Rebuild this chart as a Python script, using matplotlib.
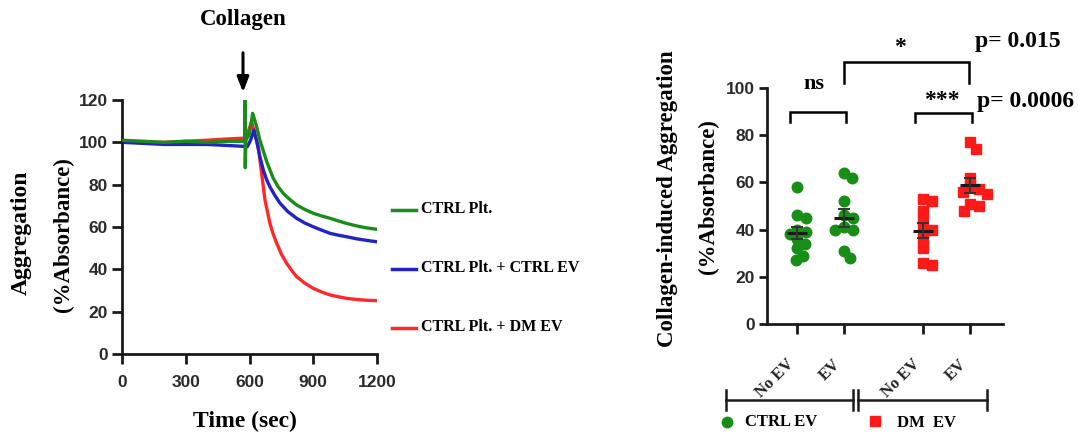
import numpy as np
import matplotlib.pyplot as plt
import matplotlib.transforms as mtransforms

# ---- data: aggregation traces ----
t_green = [0, 100, 200, 300, 400, 500, 570, 578, 579, 580, 583, 600, 615, 632, 649, 665, 681, 696,
           712, 735, 759, 790, 822, 860, 900, 940, 979, 1020, 1057, 1100, 1150, 1200]
green = [101, 100.5, 100, 100.5, 100, 100.5, 100.5, 100.5, 120, 88, 101, 104, 113.7, 108, 101, 96, 90.9, 87,
         83, 79, 75.9, 73, 70.4, 68.3, 66.5, 65.2, 64.1, 62.8, 61.7, 60.6, 59.6, 58.9]
t_blue = [0, 100, 200, 300, 400, 500, 590, 605, 621, 635, 649, 665, 680, 696, 720, 744, 780, 822,
          860, 900, 940, 979, 1020, 1057, 1100, 1150, 1200]
blue = [100, 99.5, 99, 99, 99, 98.5, 98, 101, 105.8, 100, 93.2, 86.9, 82.5, 79, 74.8, 71.2, 67.3, 64.1,
        61.9, 60.1, 58.5, 57, 56.1, 55.4, 54.5, 53.7, 53]
t_red = [0, 100, 200, 300, 400, 480, 578, 590, 610, 625, 641, 657, 673, 696, 712, 728, 750, 775,
         800, 822, 860, 900, 940, 979, 1020, 1057, 1100, 1150, 1200]
red = [100, 100, 100, 100.5, 101, 101.5, 102, 104, 109.7, 104, 98, 85.4, 72.7, 61.7, 56.5, 52.3, 47.2, 42.8,
       39.3, 36.5, 33.5, 31, 29.3, 27.9, 27, 26.3, 25.8, 25.4, 25.2]
trace_labels = ["CTRL Plt.", "CTRL Plt. + CTRL EV", "CTRL Plt. + DM EV"]

# ---- data: collagen-induced aggregation per group ----
categories = ["No EV", "EV", "No EV", "EV"]
ctrl_no_ev = [58, 46, 45, 40, 39, 38, 36, 34, 32, 29, 27]
ctrl_ev = [64, 62, 52, 46, 45, 41, 40, 40, 31, 28]
dm_no_ev = [53, 52, 48, 44, 40, 40, 36, 32, 26, 25]
dm_ev = [77, 74, 62, 58, 57, 56, 55, 51, 50, 48]
groups = [ctrl_no_ev, ctrl_ev, dm_no_ev, dm_ev]
group_names = ["CTRL EV", "DM EV"]

GREEN_L, BLUE_L, RED_L = "#1a8c1a", "#2323c4", "#ff2828"
GREEN_M, RED_M = "#178f17", "#ff1a1a"
SERIF = "Liberation Serif"
SANS = "Liberation Sans"
TICKC = "#2a2a2a"

W, H = 1079, 437
fig = plt.figure(figsize=(W / 100, H / 100), dpi=100)

def fx(px):
    return px / W

def fy(py):
    return 1 - py / H

# ---------------- left panel ----------------
axL = fig.add_axes([fx(122), fy(354), fx(377) - fx(122), fy(100) - fy(354)])
axL.plot(t_green, green, color=GREEN_L, lw=2.4, zorder=3)
axL.plot(t_blue, blue, color=BLUE_L, lw=2.4, zorder=2)
axL.plot(t_red, red, color=RED_L, lw=2.4, zorder=1)
axL.set_xlim(0, 1200)
axL.set_ylim(0, 120)
axL.set_xticks([0, 300, 600, 900, 1200])
axL.set_yticks(range(0, 121, 20))

# ---------------- right panel ----------------
xunit = 47.0
pos = np.array([0, 1, 2.68, 3.68])
axR = fig.add_axes([fx(767), fy(324), fx(1003) - fx(767), fy(88) - fy(324)])
axR.set_xlim(-0.64, 4.38)
axR.set_ylim(0, 100)
axR.set_yticks(range(0, 101, 20))
yunit = (324 - 88) / 100.0


def swarm(vals, diam, step=1.5):
    vals = np.asarray(vals, float)
    offs = np.zeros(len(vals))
    placed = []
    for i in np.argsort(vals)[::-1]:
        y = vals[i] * yunit
        k = 0
        while True:
            c = 0.0 if k == 0 else ((k + 1) // 2) * step * (1 if k % 2 else -1)
            if all((c - ox) ** 2 + (y - oy) ** 2 >= diam ** 2 for ox, oy in placed):
                break
            k += 1
        placed.append((c, y))
        offs[i] = c / xunit
    return offs


for i, vals in enumerate(groups):
    col = GREEN_M if i < 2 else RED_M
    mk = "o" if i < 2 else "s"
    offs = swarm(vals, 8.5)
    axR.plot(pos[i] + offs, vals, mk, color=col, ms=7.6, mec=col, zorder=2, clip_on=False)
    m = np.mean(vals)
    sem = np.std(vals, ddof=1) / np.sqrt(len(vals))
    axR.hlines(m, pos[i] - 0.22, pos[i] + 0.22, color="#1a1a1a", lw=2.2, zorder=4)
    axR.hlines([m - sem, m + sem], pos[i] - 0.13, pos[i] + 0.13, color="#333333", lw=1.4, zorder=4)
    axR.vlines(pos[i], m - sem, m + sem, color="#333333", lw=1.4, zorder=4)

axR.set_xticks(pos)
axR.set_xticklabels(categories, rotation=45, ha="right", va="top",
                    fontfamily=SERIF, fontweight="bold", fontsize=12, color="#222222")
shift = mtransforms.ScaledTranslation(-10 / 100, 0, fig.dpi_scale_trans)
for lab in axR.get_xticklabels():
    lab.set_transform(lab.get_transform() + shift)

# brackets
def bracket(ax, x1, x2, ytop, ybot1, ybot2):
    ax.plot([x1, x1, x2, x2], [ybot1, ytop, ytop, ybot2], color="black", lw=1.8,
            clip_on=False, solid_joinstyle="miter")

bracket(axR, pos[0] - 0.15, pos[1] + 0.05, 89.8, 85.6, 85.6)
bracket(axR, pos[2] - 0.18, pos[3] + 0.05, 89.5, 85.6, 85.6)
bracket(axR, pos[1], pos[3] - 0.02, 111, 102, 102)
axR.text((pos[0] + pos[1]) / 2 - 0.15, 101.5, "ns", ha="center", va="center",
         fontfamily=SERIF, fontweight="bold", fontsize=16, clip_on=False)
axR.text((pos[2] + pos[3]) / 2 - 0.1, 94.5, "***", ha="center", va="center",
         fontfamily=SERIF, fontweight="bold", fontsize=17, clip_on=False)
axR.text((pos[1] + pos[3]) / 2 - 0.15, 117, "*", ha="center", va="center",
         fontfamily=SERIF, fontweight="bold", fontsize=17, clip_on=False)

# ---------------- shared axis styling ----------------
for ax, tl in ((axL, 7), (axR, 6)):
    for s in ("top", "right"):
        ax.spines[s].set_visible(False)
    for s in ("left", "bottom"):
        ax.spines[s].set_linewidth(2)
        ax.spines[s].set_color("#1a1a1a")
    ax.tick_params(width=2, length=tl, color="#1a1a1a", direction="out")
    for lab in ax.get_yticklabels():
        lab.set_fontfamily(SANS)
        lab.set_fontweight("bold")
        lab.set_fontsize(12.5)
        lab.set_color(TICKC)
axR.tick_params(axis="x", length=7, pad=16)
axR.tick_params(axis="y", pad=3)
axL.tick_params(axis="y", pad=3)
axL.tick_params(axis="x", pad=8)
for lab in axL.get_xticklabels():
    lab.set_fontfamily(SANS)
    lab.set_fontweight("bold")
    lab.set_fontsize(12.5)
    lab.set_color(TICKC)

# ---------------- overlay in pixel coordinates ----------------
ov = fig.add_axes([0, 0, 1, 1], zorder=10)
ov.set_xlim(0, W)
ov.set_ylim(H, 0)
ov.axis("off")
ov.patch.set_alpha(0)

bold_serif = dict(fontfamily=SERIF, fontweight="bold")
ov.text(243, 20, "Collagen", ha="center", va="center", fontsize=16.5, **bold_serif)
ov.annotate("", xy=(243, 95), xytext=(243, 50),
            arrowprops=dict(arrowstyle="-|>,head_length=0.9,head_width=0.35", lw=2.2, color="black"))
ov.text(245, 421, "Time (sec)", ha="center", va="center", fontsize=17, **bold_serif)
ov.text(21, 233, "Aggregation", rotation=90, ha="center", va="center", fontsize=17, **bold_serif)
ov.text(63, 235, "(%Absorbance)", rotation=90, ha="center", va="center", fontsize=16.5, **bold_serif)
ov.text(667, 199, "Collagen-induced Aggregation", rotation=90, ha="center", va="center",
        fontsize=16.5, **bold_serif)
ov.text(708, 197, "(%Absorbance)", rotation=90, ha="center", va="center", fontsize=16.5, **bold_serif)

# left legend
for yy, col, lab in zip([210, 269, 328], [GREEN_L, BLUE_L, RED_L], trace_labels):
    ov.plot([392, 416], [yy, yy], color=col, lw=2.5)
    ov.text(421, yy - 1, lab, ha="left", va="center", fontsize=11.5, **bold_serif)

# p values
ov.text(975, 42, "p= 0.015", ha="left", va="center", fontsize=17, **bold_serif)
ov.text(977, 102, "p= 0.0006", ha="left", va="center", fontsize=17, **bold_serif)

# group bars under the right panel
lk = dict(color="#1a1a1a", lw=1.8)
ov.plot([726, 853], [400, 400], **lk)
ov.plot([858, 987], [400, 400], **lk)
for xx in (726, 853, 858, 987):
    ov.plot([xx, xx], [390, 410], **lk)

ov.plot([727], [422], "o", color=GREEN_M, ms=7.5)
ov.text(745, 422, group_names[0], ha="left", va="center", fontsize=12, **bold_serif)
ov.plot([875], [421], "s", color=RED_M, ms=7.5)
ov.text(897, 423, group_names[1].replace(" ", "  "), ha="left", va="center", fontsize=12, **bold_serif)

fig.savefig("out.png", dpi=100)
